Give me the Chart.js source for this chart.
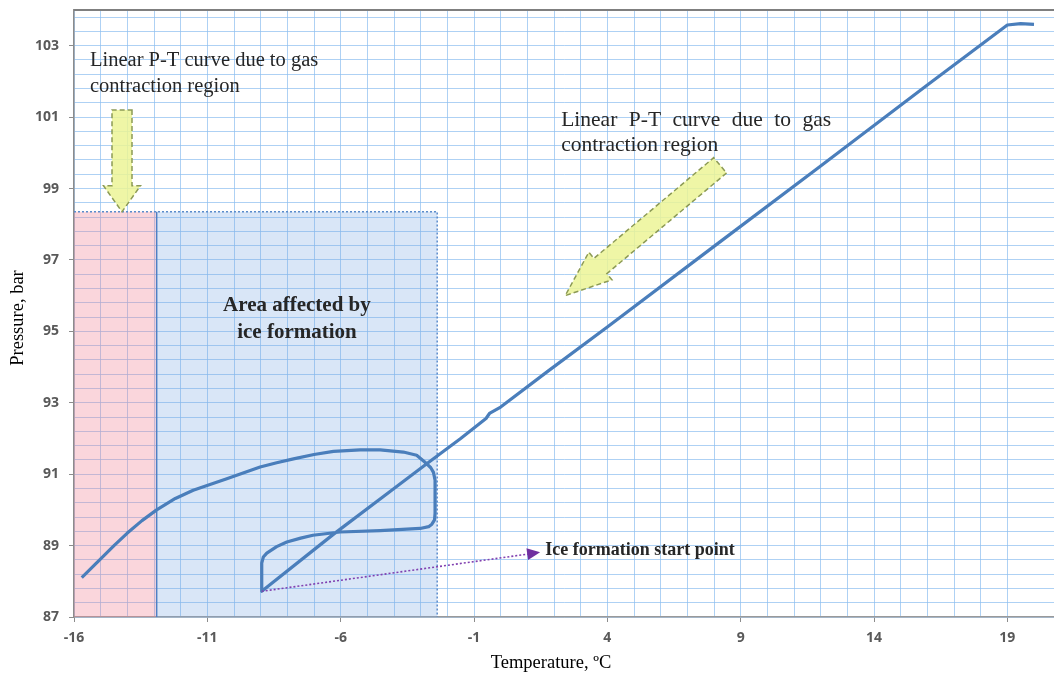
<!DOCTYPE html>
<html lang="en">
<head>
    <meta charset="UTF-8">
    <title>Pressure vs Temperature</title>
    <script src="https://cdn.jsdelivr.net/npm/chart.js@4.4.1/dist/chart.umd.min.js"></script>
    <style>
        html, body {
            margin: 0;
            padding: 0;
            background: #ffffff;
        }

        .chart-box {
            position: relative;
            width: 1054px;
            height: 675px;
        }
    </style>
</head>
<body>
    <div class="chart-box">
        <canvas id="ptChart" width="1054" height="675"></canvas>
    </div>

    <script>
        // P-T trace (cooling run, then the ice loop)
        const tempC = [
            20.0, 19.5, 19.0, 16.0, 12.0, 8.0, 4.0, 1.8, 0.0, -0.42, -0.55, -1.5,
            -2.76, -4.0, -6.3, -8.96,
            -8.96, -8.9, -8.77, -8.4, -8.02, -7.5, -7.04, -6.02, -4.52, -3.02, -2.7, -2.58, -2.48, -2.46,
            -2.46, -2.52, -2.62, -2.77, -3.15, -3.65, -4.52, -5.27, -6.27, -7.0, -7.77,
            -8.4, -9.02, -10.27, -11.53, -12.2, -12.9, -13.45, -14.0, -14.5, -15.0, -15.71
        ];
        const pressureBar = [
            103.6, 103.62, 103.58, 101.9, 99.63, 97.38, 95.12, 93.9, 92.88, 92.7, 92.56, 92.0,
            91.3, 90.6, 89.3, 87.72,
            88.51, 88.68, 88.79, 88.97, 89.10, 89.21, 89.29, 89.38, 89.42, 89.48, 89.53, 89.6, 89.72, 89.91,
            90.83, 91.05, 91.18, 91.29, 91.53, 91.62, 91.68, 91.68, 91.64, 91.55, 91.43,
            91.32, 91.20, 90.87, 90.55, 90.32, 90.0, 89.7, 89.35, 89.0, 88.63, 88.1
        ];

        // axis ranges, gridlines and labelled ticks
        const xMin = -16, xMax = 20.75, xStep = 1;
        const xLabelTicks = [-16, -11, -6, -1, 4, 9, 14, 19];
        const yMin = 87, yMax = 104, yGridStep = 0.4;
        const yLabelTicks = [87, 89, 91, 93, 95, 97, 99, 101, 103];

        // shaded regions [x0, x1, y0, y1]
        const gasRegion = [-16, -12.9, 87, 98.35];
        const iceRegion = [-12.9, -2.38, 87, 98.35];

        // ice formation start point and where its arrow ends
        const iceStart = [-8.96, 87.72];
        const iceArrowEnd = [1.48, 88.81];

        const serif = '"Liberation Serif", "Times New Roman", serif';
        const points = tempC.map((t, i) => ({ x: t, y: pressureBar[i] }));

        function isLabelTick(list, v) {
            return list.some(t => Math.abs(t - v) < 1e-6);
        }

        function blockArrow(ctx, x0, y0, x1, y1, shaftW, headW, headL) {
            const ang = Math.atan2(y1 - y0, x1 - x0);
            const len = Math.hypot(x1 - x0, y1 - y0);
            ctx.save();
            ctx.translate(x0, y0);
            ctx.rotate(ang);
            ctx.beginPath();
            ctx.moveTo(0, -shaftW / 2);
            ctx.lineTo(len - headL, -shaftW / 2);
            ctx.lineTo(len - headL, -headW / 2);
            ctx.lineTo(len, 0);
            ctx.lineTo(len - headL, headW / 2);
            ctx.lineTo(len - headL, shaftW / 2);
            ctx.lineTo(0, shaftW / 2);
            ctx.closePath();
            ctx.fillStyle = 'rgba(236, 244, 150, 0.85)';
            ctx.fill();
            ctx.setLineDash([5, 3]);
            ctx.lineWidth = 1.5;
            ctx.strokeStyle = '#8c9a55';
            ctx.stroke();
            ctx.restore();
        }

        function justifiedLine(ctx, text, x, y, width) {
            const words = text.split(' ');
            const used = words.reduce((s, w) => s + ctx.measureText(w).width, 0);
            const gap = (width - used) / (words.length - 1);
            let cx = x;
            words.forEach(w => {
                ctx.fillText(w, cx, y);
                cx += ctx.measureText(w).width + gap;
            });
        }

        const annotations = {
            id: 'annotations',
            beforeDatasetsDraw(chart) {
                const { ctx, scales: { x, y } } = chart;
                ctx.save();
                // gas contraction region (pink)
                let x0 = x.getPixelForValue(gasRegion[0]), x1 = x.getPixelForValue(gasRegion[1]);
                let y0 = y.getPixelForValue(gasRegion[3]), y1 = y.getPixelForValue(gasRegion[2]);
                ctx.fillStyle = 'rgba(240, 130, 150, 0.33)';
                ctx.fillRect(x0, y0, x1 - x0, y1 - y0);

                // ice formation region (blue)
                x0 = x.getPixelForValue(iceRegion[0]);
                x1 = x.getPixelForValue(iceRegion[1]);
                y0 = y.getPixelForValue(iceRegion[3]);
                y1 = y.getPixelForValue(iceRegion[2]);
                ctx.fillStyle = 'rgba(120, 165, 225, 0.28)';
                ctx.fillRect(x0, y0, x1 - x0, y1 - y0);

                ctx.setLineDash([2, 2]);
                ctx.lineWidth = 1.5;
                ctx.strokeStyle = '#5b8ccc';
                ctx.beginPath();
                ctx.moveTo(x.getPixelForValue(gasRegion[0]), y0);
                ctx.lineTo(x1, y0);
                ctx.lineTo(x1, y1);
                ctx.stroke();
                ctx.setLineDash([]);
                ctx.strokeStyle = '#4f7fc4';
                ctx.beginPath();
                ctx.moveTo(x0, y0);
                ctx.lineTo(x0, y1);
                ctx.stroke();
                ctx.restore();
            },
            afterDatasetsDraw(chart) {
                const { ctx, chartArea, scales: { x, y } } = chart;
                ctx.save();

                // top frame line
                ctx.strokeStyle = '#7f7f7f';
                ctx.lineWidth = 2;
                ctx.beginPath();
                ctx.moveTo(chartArea.left, chartArea.top);
                ctx.lineTo(chartArea.right, chartArea.top);
                ctx.stroke();

                // yellow arrows
                blockArrow(ctx, x.getPixelForValue(-14.2), y.getPixelForValue(101.2),
                    x.getPixelForValue(-14.2), y.getPixelForValue(98.35), 20, 37, 26);
                blockArrow(ctx, x.getPixelForValue(8.23), y.getPixelForValue(99.65),
                    x.getPixelForValue(2.42), y.getPixelForValue(96.0), 20, 36, 46);

                // ice start arrow (purple dotted)
                const sx = x.getPixelForValue(iceStart[0]), sy = y.getPixelForValue(iceStart[1]);
                const ex = x.getPixelForValue(iceArrowEnd[0]), ey = y.getPixelForValue(iceArrowEnd[1]);
                const ang = Math.atan2(ey - sy, ex - sx);
                ctx.strokeStyle = '#8040b0';
                ctx.lineWidth = 1.6;
                ctx.setLineDash([2, 2]);
                ctx.beginPath();
                ctx.moveTo(sx, sy);
                ctx.lineTo(ex - 11 * Math.cos(ang), ey - 11 * Math.sin(ang));
                ctx.stroke();
                ctx.setLineDash([]);
                ctx.fillStyle = '#7030a0';
                ctx.beginPath();
                ctx.moveTo(ex, ey);
                ctx.lineTo(ex - 13 * Math.cos(ang) + 6 * Math.sin(ang), ey - 13 * Math.sin(ang) - 6 * Math.cos(ang));
                ctx.lineTo(ex - 13 * Math.cos(ang) - 6 * Math.sin(ang), ey - 13 * Math.sin(ang) + 6 * Math.cos(ang));
                ctx.closePath();
                ctx.fill();

                // texts
                ctx.fillStyle = '#262626';
                ctx.textAlign = 'left';
                ctx.textBaseline = 'alphabetic';
                ctx.font = '20.5px ' + serif;
                let tx = x.getPixelForValue(-15.4), ty = y.getPixelForValue(102.42);
                ctx.fillText('Linear P-T curve due to gas', tx, ty);
                ctx.fillText('contraction region', tx, ty + 26);

                ctx.font = '21.5px ' + serif;
                tx = x.getPixelForValue(2.27);
                ty = y.getPixelForValue(100.74);
                justifiedLine(ctx, 'Linear P-T curve due to gas', tx, ty, 270);
                ctx.fillText('contraction region', tx, ty + 25);

                ctx.font = 'bold 21px ' + serif;
                ctx.textAlign = 'center';
                tx = x.getPixelForValue(-7.64);
                ty = y.getPixelForValue(95.58);
                ctx.fillText('Area affected by', tx, ty);
                ctx.fillText('ice formation', tx, ty + 27);

                ctx.font = 'bold 18px ' + serif;
                ctx.textAlign = 'left';
                ctx.textBaseline = 'middle';
                ctx.fillText('Ice formation start point', x.getPixelForValue(1.67), y.getPixelForValue(88.87));

                // axis titles
                ctx.fillStyle = '#000000';
                ctx.font = '18.5px ' + serif;
                ctx.textAlign = 'center';
                ctx.fillText('Temperature, ºC', 551, 663);
                ctx.translate(18, 318);
                ctx.rotate(-Math.PI / 2);
                ctx.fillText('Pressure, bar', 0, 0);
                ctx.restore();
            }
        };

        const ctx = document.getElementById('ptChart').getContext('2d');
        new Chart(ctx, {
            type: 'scatter',
            data: {
                datasets: [{
                    label: 'P-T',
                    data: points,
                    showLine: true,
                    borderColor: '#4a7ebb',
                    borderWidth: 3.2,
                    borderJoinStyle: 'round',
                    pointRadius: 0,
                    tension: 0
                }]
            },
            options: {
                responsive: false,
                animation: false,
                devicePixelRatio: 1,
                layout: { padding: { top: 10, right: 0, left: 0, bottom: 0 } },
                plugins: {
                    legend: { display: false },
                    tooltip: { enabled: false }
                },
                scales: {
                    x: {
                        type: 'linear',
                        min: xMin,
                        max: xMax,
                        afterFit: s => { s.height = 58; s.paddingLeft = 0; s.paddingRight = 0; },
                        ticks: {
                            stepSize: xStep,
                            autoSkip: false,
                            maxRotation: 0,
                            padding: 8,
                            color: '#595959',
                            font: { family: '"Open Sans", sans-serif', size: 14, weight: 'bold' },
                            callback: v => isLabelTick(xLabelTicks, v) ? v : ''
                        },
                        grid: {
                            color: 'rgba(140, 190, 240, 0.7)',
                            lineWidth: 1,
                            tickLength: 5,
                            tickColor: c => isLabelTick(xLabelTicks, c.tick.value) ? '#8c8c8c' : 'rgba(0,0,0,0)'
                        },
                        border: { color: '#9a9a9a', width: 1.5 }
                    },
                    y: {
                        type: 'linear',
                        min: yMin,
                        max: yMax,
                        afterFit: s => { s.width = 74; s.paddingTop = 0; s.paddingBottom = 0; },
                        afterBuildTicks: s => {
                            const vals = [];
                            for (let i = 0; yMin + i * yGridStep <= yMax + 1e-9; i++) {
                                vals.push({ value: +(yMin + i * yGridStep).toFixed(1) });
                            }
                            s.ticks = vals;
                        },
                        ticks: {
                            autoSkip: false,
                            padding: 10,
                            color: '#595959',
                            font: { family: '"Open Sans", sans-serif', size: 14, weight: 'bold' },
                            callback: v => isLabelTick(yLabelTicks, v) ? v : ''
                        },
                        grid: {
                            color: 'rgba(140, 190, 240, 0.7)',
                            lineWidth: 1,
                            tickLength: 5,
                            tickColor: c => isLabelTick(yLabelTicks, c.tick.value) ? '#8c8c8c' : 'rgba(0,0,0,0)'
                        },
                        border: { color: '#8c8c8c', width: 1.5 }
                    }
                }
            },
            plugins: [annotations]
        });
    </script>
</body>
</html>
